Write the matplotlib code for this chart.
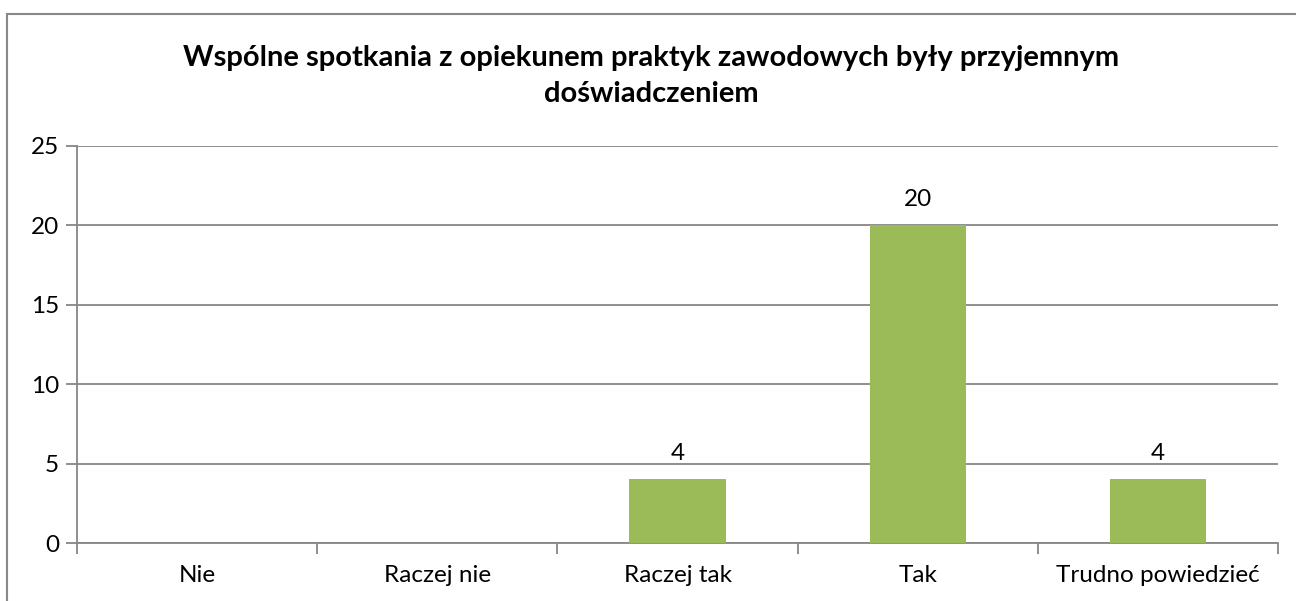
import matplotlib.pyplot as plt
from matplotlib.patches import Rectangle

categories = ["Nie", "Raczej nie", "Raczej tak", "Tak", "Trudno powiedzieć"]
values = [0, 0, 4, 20, 4]
title = "Wspólne spotkania z opiekunem praktyk zawodowych były przyjemnym\ndoświadczeniem"

plt.rcParams['font.family'] = ['Lato', 'DejaVu Sans']
grid_col = '#868686'

fig = plt.figure(figsize=(12.96, 6.01), dpi=100)
# chart border (Excel chart area)
fig.patches.append(Rectangle((7 / 1296, -0.05), 1.2, 1 - 14 / 601 + 0.05,
                             transform=fig.transFigure, fill=False,
                             edgecolor='#888888', linewidth=1.5))

ax = fig.add_axes([77 / 1296, 1 - 543 / 601, (1278 - 77) / 1296, (543 - 146) / 601])
x = list(range(len(categories)))
ax.bar(x, values, width=0.4, color='#9BBB59', zorder=3)
for xi, v in zip(x, values):
    if v > 0:
        ax.annotate(str(v), (xi, v), xytext=(0, 11), textcoords='offset points',
                    ha='center', va='bottom', fontsize=17.5)

ax.set_xlim(-0.5, len(categories) - 0.5)
ax.set_ylim(0, 25)
ax.set_yticks([0, 5, 10, 15, 20, 25])
ax.yaxis.grid(True, color=grid_col, linewidth=1.3, zorder=0)
ax.set_xticks(x)
ax.set_xticklabels(categories, fontsize=17.5)
ax.set_xticks([i - 0.5 for i in range(len(categories) + 1)], minor=True)
ax.tick_params(axis='x', which='major', length=0, pad=16)
ax.tick_params(axis='x', which='minor', length=8, width=1.3, color=grid_col)
ax.tick_params(axis='y', length=8, width=1.3, color=grid_col, labelsize=17.5, pad=5)
for s in ['top', 'right']:
    ax.spines[s].set_visible(False)
for s in ['left', 'bottom']:
    ax.spines[s].set_color(grid_col)
    ax.spines[s].set_linewidth(1.3)

fig.text(651 / 1296, 1 - 76 / 601, title, ha='center', va='center',
         fontsize=21, fontweight='bold', linespacing=1.45)

fig.savefig('out.png', dpi=100)
